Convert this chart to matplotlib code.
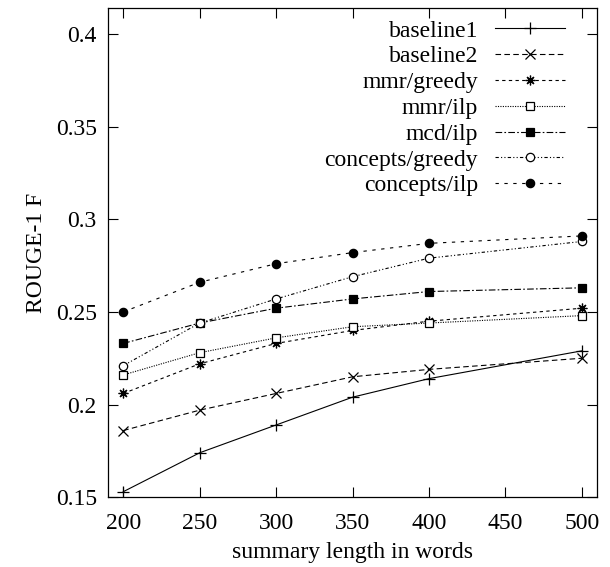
import matplotlib
matplotlib.use("Agg")
import matplotlib.pyplot as plt

# summary lengths (words)
lengths = [200, 250, 300, 350, 400, 500]

# ROUGE-1 F per system
baseline1 = [0.153, 0.174, 0.189, 0.204, 0.214, 0.229]
baseline2 = [0.186, 0.197, 0.206, 0.215, 0.219, 0.225]
mmr_greedy = [0.206, 0.222, 0.233, 0.240, 0.245, 0.252]
mmr_ilp = [0.216, 0.228, 0.236, 0.242, 0.244, 0.248]
mcd_ilp = [0.233, 0.244, 0.252, 0.257, 0.261, 0.263]
concepts_greedy = [0.221, 0.244, 0.257, 0.269, 0.279, 0.288]
concepts_ilp = [0.250, 0.266, 0.276, 0.282, 0.287, 0.291]

x_ticks = [200, 250, 300, 350, 400, 450, 500]
y_ticks = [0.15, 0.2, 0.25, 0.3, 0.35, 0.4]

plt.rcParams['font.family'] = ['Liberation Serif', 'DejaVu Serif']
plt.rcParams['font.size'] = 17

fig = plt.figure(figsize=(6.1, 5.67), dpi=100)
ax = fig.add_axes([0.177, 0.123, 0.802, 0.863])

lw = 0.8
series = [
    ('baseline1', baseline1, dict(linestyle='-', marker='+', markersize=8)),
    ('baseline2', baseline2, dict(linestyle=(0, (5, 3)), marker='x', markersize=6.5)),
    ('mmr/greedy', mmr_greedy, dict(linestyle=(0, (3, 3)), marker=(8, 2, 0), markersize=7)),
    ('mmr/ilp', mmr_ilp, dict(linestyle=(0, (1, 1.2)), marker='s', markerfacecolor='white', markersize=6)),
    ('mcd/ilp', mcd_ilp, dict(linestyle=(0, (6, 2, 1.5, 2)), marker='s', markersize=6)),
    ('concepts/greedy', concepts_greedy, dict(linestyle=(0, (3, 2, 1, 2, 1, 2)), marker='o', markerfacecolor='white', markersize=6)),
    ('concepts/ilp', concepts_ilp, dict(linestyle=(0, (3, 5)), marker='o', markersize=6)),
]

for label, vals, style in series:
    ax.plot(lengths, vals, color='black', linewidth=lw, markeredgewidth=0.9,
            label=label, **style)

ax.set_xlim(190, 510)
ax.set_ylim(0.15, 0.414)
ax.set_xticks(x_ticks)
ax.set_yticks(y_ticks)
ax.set_yticklabels([f"{v:g}" for v in y_ticks])
ax.tick_params(direction='in', length=7, width=0.8, top=True, right=True,
               labelsize=17)
ax.tick_params(axis='x', pad=11)
ax.tick_params(axis='y', pad=8)
for sp in ax.spines.values():
    sp.set_linewidth(0.9)

ax.set_xlabel('summary length in words', fontsize=17, labelpad=6)
ax.set_ylabel('ROUGE-1 F', fontsize=17, labelpad=6)

leg = ax.legend(loc='upper right', bbox_to_anchor=(0.935, 0.975),
                frameon=False, markerfirst=False,
                handlelength=3.0, handletextpad=0.7, labelspacing=0.18,
                borderaxespad=0.0, borderpad=0.0, fontsize=17)

fig.savefig('out.png', dpi=100)
